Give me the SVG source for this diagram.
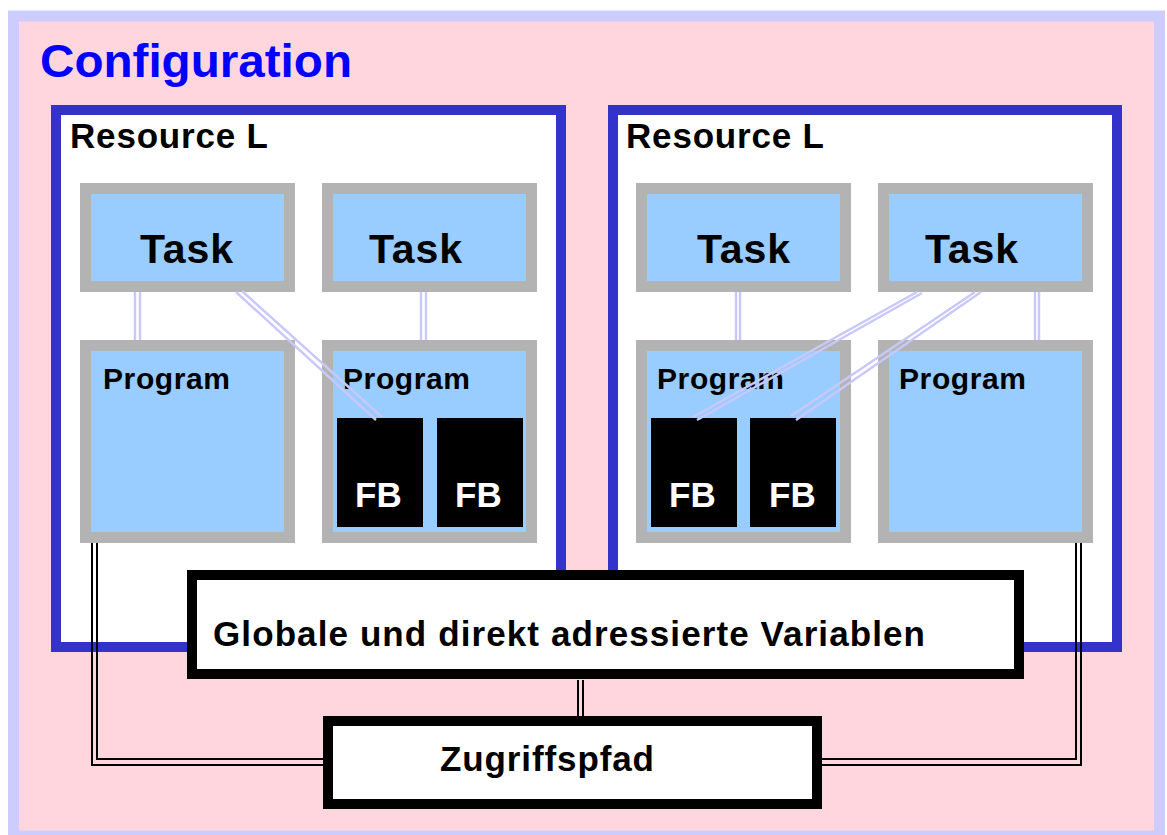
<svg xmlns="http://www.w3.org/2000/svg" width="1167" height="835" viewBox="0 0 1167 835">
<style>
.t{font-family:"Liberation Sans",Arial,sans-serif;font-weight:bold;fill:#000}
.res{fill:#fff;stroke:#3333CC;stroke-width:10}
.gb{fill:#99CCFF;stroke:#B3B3B3;stroke-width:11}
.fb{fill:#000}
.bx{fill:#fff;stroke:#000;stroke-width:10}
.lav{stroke:#C8C8FA;stroke-width:2.4;fill:none}
.blk{stroke:#000;stroke-width:2;fill:none}
</style>
<rect x="13.5" y="16" width="1146" height="820" fill="#FFD6DE" stroke="#CCCCFF" stroke-width="11"/>
<text x="40" y="77" class="t" style="fill:#0000FF" font-size="46" textLength="312" lengthAdjust="spacingAndGlyphs">Configuration</text>

<g id="resource1">
<rect class="res" x="56" y="110" width="505" height="537"/>
<text class="t" x="70" y="148" font-size="35" textLength="198">Resource L</text>
</g>
<g id="resource2">
<rect class="res" x="613" y="110" width="504" height="537"/>
<text class="t" x="626" y="148" font-size="35" textLength="198">Resource L</text>
</g>

<g id="task1"><rect class="gb" x="85.5" y="188.5" width="204" height="98"/><text class="t" x="140" y="263" font-size="41" textLength="93">Task</text></g>
<g id="task2"><rect class="gb" x="327.5" y="188.5" width="204" height="98"/><text class="t" x="369" y="263" font-size="41" textLength="93">Task</text></g>
<g id="task3"><rect class="gb" x="641.5" y="188.5" width="204" height="98"/><text class="t" x="697" y="263" font-size="41" textLength="93">Task</text></g>
<g id="task4"><rect class="gb" x="883.5" y="188.5" width="204" height="98"/><text class="t" x="925" y="263" font-size="41" textLength="93">Task</text></g>

<g id="program1"><rect class="gb" x="85.5" y="345.5" width="204" height="192"/><text class="t" x="103" y="389" font-size="30" textLength="127">Program</text></g>
<g id="program2"><rect class="gb" x="327.5" y="345.5" width="204" height="192"/><text class="t" x="343" y="389" font-size="30" textLength="127">Program</text></g>
<g id="program3"><rect class="gb" x="641.5" y="345.5" width="204" height="192"/><text class="t" x="657" y="389" font-size="30" textLength="127">Program</text></g>
<g id="program4"><rect class="gb" x="883.5" y="345.5" width="204" height="192"/><text class="t" x="899" y="389" font-size="30" textLength="127">Program</text></g>

<g id="fb1"><rect class="fb" x="337" y="418" width="86" height="109"/><text class="t" x="355" y="507" font-size="35" style="fill:#fff">FB</text></g>
<g id="fb2"><rect class="fb" x="437" y="418" width="86" height="109"/><text class="t" x="455" y="507" font-size="35" style="fill:#fff">FB</text></g>
<g id="fb3"><rect class="fb" x="651" y="418" width="86" height="109"/><text class="t" x="669" y="507" font-size="35" style="fill:#fff">FB</text></g>
<g id="fb4"><rect class="fb" x="750" y="418" width="86" height="109"/><text class="t" x="769" y="507" font-size="35" style="fill:#fff">FB</text></g>

<g id="globals"><rect class="bx" x="192" y="575" width="827" height="99"/><text class="t" x="213" y="646" font-size="35" textLength="712">Globale und direkt adressierte Variablen</text></g>
<g id="access"><rect class="bx" x="328" y="721" width="489" height="83"/><text class="t" x="440" y="771" font-size="35" textLength="214">Zugriffspfad</text></g>

<g id="connectors">
<path class="lav" d="M135,292V340M140,292V340"/>
<path class="lav" d="M421,292V340M426,292V340"/>
<path class="lav" d="M736,292V340M740,292V340"/>
<path class="lav" d="M1035,292V340M1039,292V340"/>
<path class="lav" d="M236,292L376,420M242,291L382,417"/>
<path class="lav" d="M917,292L693,417M922,293L697,420"/>
<path class="lav" d="M975,292L791,416M981,292L796,420"/>
<path class="blk" d="M92,543V765H323M97,543V759H323"/>
<path class="blk" d="M1081,543V765H822M1076,543V759H822"/>
<path class="blk" d="M578,680V716M583,680V716"/>
</g>
</svg>
